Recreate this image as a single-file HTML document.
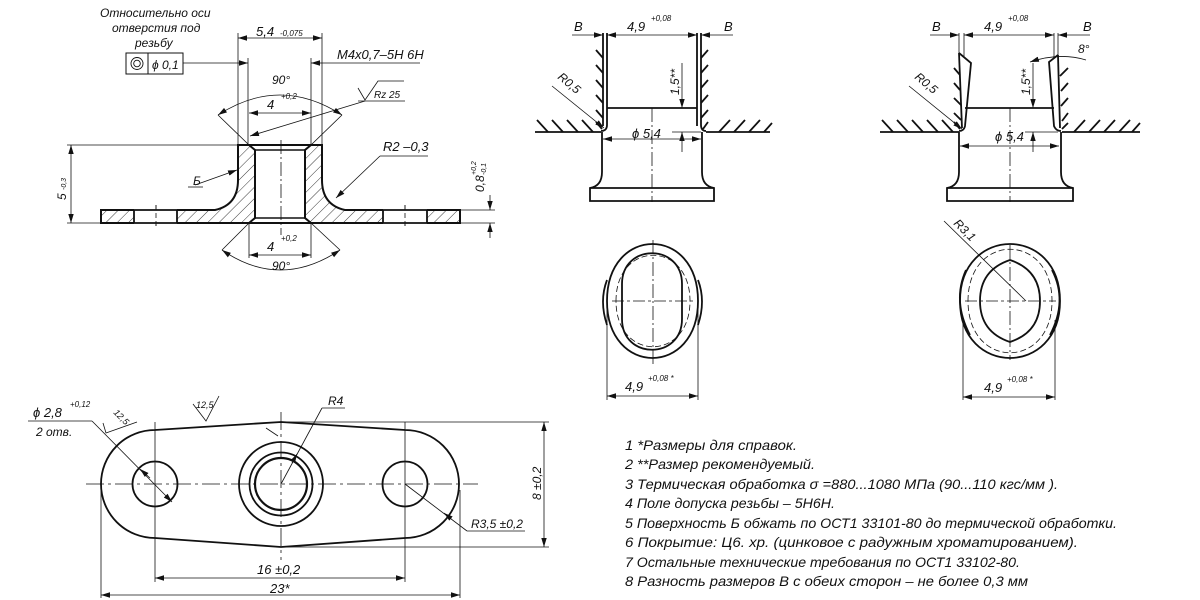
<!DOCTYPE html>
<html><head><meta charset="utf-8"><style>
html,body{margin:0;padding:0;background:#fff;}
svg{display:block;}
text{font-family:"Liberation Sans",sans-serif;font-style:italic;fill:#111;}
</style></head><body>
<svg width="1200" height="600" viewBox="0 0 1200 600" xmlns="http://www.w3.org/2000/svg">
<defs>
<pattern id="h" width="8" height="8" patternUnits="userSpaceOnUse" patternTransform="rotate(45)">
<line x1="0" y1="0" x2="0" y2="8" stroke="#222" stroke-width="0.9"/></pattern>
<marker id="a" viewBox="0 0 10 10" refX="10" refY="5" markerWidth="9" markerHeight="9" orient="auto-start-reverse" markerUnits="userSpaceOnUse"><path d="M0,2 L10,5 L0,8 z" fill="#111"/></marker>
</defs>
<g stroke="#111" fill="none">
<g stroke-width="0.8">
<line x1="238" y1="33" x2="238" y2="145"/><line x1="322" y1="33" x2="322" y2="145"/>
<line x1="238" y1="38" x2="322" y2="38" marker-start="url(#a)" marker-end="url(#a)"/>
<line x1="248" y1="58" x2="248" y2="145"/><line x1="311" y1="58" x2="311" y2="145"/>
<line x1="183" y1="63" x2="248" y2="63" marker-end="url(#a)"/>
<line x1="322" y1="63" x2="420" y2="63"/><line x1="311" y1="63" x2="322" y2="63" marker-start="url(#a)"/>
<line x1="249" y1="113" x2="311" y2="113" marker-start="url(#a)" marker-end="url(#a)"/>
<path d="M218,115 Q280,75 342,115" marker-start="url(#a)" marker-end="url(#a)"/>
<line x1="218" y1="115" x2="249" y2="145"/><line x1="342" y1="115" x2="311" y2="145"/>
<path d="M358,88 L365,100 L378,81 L404,81"/><line x1="358" y1="101" x2="405" y2="101"/>
<line x1="365" y1="101" x2="250" y2="136" marker-end="url(#a)"/>
<line x1="67" y1="145" x2="238" y2="145"/><line x1="67" y1="223" x2="101" y2="223"/>
<line x1="71" y1="145" x2="71" y2="223" marker-start="url(#a)" marker-end="url(#a)"/>
<path d="M195,185 L237,170" marker-end="url(#a)"/><line x1="188" y1="187" x2="203" y2="187"/>
<line x1="380" y1="156" x2="428" y2="156"/><line x1="380" y1="156" x2="336" y2="198" marker-end="url(#a)"/>
<line x1="460" y1="210" x2="495" y2="210"/><line x1="460" y1="223" x2="495" y2="223"/>
<line x1="490" y1="195" x2="490" y2="210" marker-end="url(#a)"/><line x1="490" y1="238" x2="490" y2="223" marker-end="url(#a)"/>
<line x1="249" y1="223" x2="249" y2="258"/><line x1="311" y1="223" x2="311" y2="258"/>
<line x1="249" y1="255" x2="311" y2="255" marker-start="url(#a)" marker-end="url(#a)"/>
<line x1="249" y1="223" x2="222" y2="250"/><line x1="311" y1="223" x2="340" y2="250"/>
<path d="M222,250 Q280,290 340,250" marker-start="url(#a)" marker-end="url(#a)"/>
<line x1="281" y1="140" x2="281" y2="235" stroke-dasharray="14,3,2,3"/>
<line x1="156" y1="205" x2="156" y2="228" stroke-dasharray="5,3"/><line x1="405" y1="205" x2="405" y2="228" stroke-dasharray="5,3"/>
</g>
<rect x="126" y="53" width="57" height="21" stroke-width="1"/><line x1="148" y1="53" x2="148" y2="74"/>
<circle cx="137" cy="63.5" r="6" stroke-width="0.9"/><circle cx="137" cy="63.5" r="3.3" stroke-width="0.9"/>
<path fill="url(#h)" stroke-width="2" d="M101,210 L215,210 Q238,205 238,180 L238,145 L249,145 L255,150 L255,218 L249,223 L101,223 Z"/>
<path fill="url(#h)" stroke-width="2" d="M460,210 L345,210 Q322,205 322,180 L322,145 L311,145 L305,150 L305,218 L311,223 L460,223 Z"/>
<rect x="134" y="209" width="43" height="15" fill="#fff" stroke="none"/>
<rect x="383" y="209" width="44" height="15" fill="#fff" stroke="none"/>
<g stroke-width="1.8"><line x1="134" y1="210" x2="134" y2="223"/><line x1="177" y1="210" x2="177" y2="223"/>
<line x1="383" y1="210" x2="383" y2="223"/><line x1="427" y1="210" x2="427" y2="223"/>
<line x1="134" y1="210" x2="177" y2="210"/><line x1="134" y1="223" x2="177" y2="223"/>
<line x1="383" y1="210" x2="427" y2="210"/><line x1="383" y1="223" x2="427" y2="223"/></g>
<line x1="156" y1="205" x2="156" y2="228" stroke-width="0.8" stroke-dasharray="5,3"/><line x1="405" y1="205" x2="405" y2="228" stroke-width="0.8" stroke-dasharray="5,3"/>
<line x1="249" y1="145" x2="311" y2="145" stroke-width="2"/><line x1="249" y1="223" x2="311" y2="223" stroke-width="2"/>
<line x1="255" y1="150" x2="305" y2="150" stroke-width="1.4"/><line x1="255" y1="218" x2="305" y2="218" stroke-width="1.4"/>

<g stroke-width="0.8">
<line x1="572" y1="35" x2="603" y2="35" marker-end="url(#a)"/><line x1="607" y1="35" x2="697" y2="35" marker-start="url(#a)" marker-end="url(#a)"/>
<line x1="701" y1="35" x2="733" y2="35" marker-start="url(#a)"/>
<line x1="682" y1="63" x2="682" y2="108" marker-end="url(#a)"/><line x1="682" y1="152" x2="682" y2="132" marker-end="url(#a)"/>
<line x1="672" y1="132" x2="701" y2="132"/>
<line x1="603" y1="139" x2="701" y2="139" marker-start="url(#a)" marker-end="url(#a)"/>
<line x1="552" y1="86" x2="604" y2="128" marker-end="url(#a)"/>
<line x1="652" y1="108" x2="652" y2="202" stroke-dasharray="14,3,2,3"/>
</g>
<g stroke-width="1.8">
<line x1="603" y1="33" x2="603" y2="126"/><path d="M607,33 L607,125 Q607,131 601,131"/>
<line x1="697" y1="33" x2="697" y2="126"/><path d="M701,33 L701,125 Q701,131 706,131"/>
<line x1="535" y1="132" x2="601" y2="132"/><line x1="706" y1="132" x2="770" y2="132"/>
<line x1="607" y1="108" x2="697" y2="108"/>
<path d="M602,132 L602,172 Q602,186 590,188 L590,201 L714,201 L714,188 Q702,186 702,172 L702,132"/>
<line x1="590" y1="188" x2="714" y2="188"/>
<path d="M596,50 L603,58 M596,65 L603,73 M596,80 L603,88 M596,95 L603,103 M596,110 L603,118 M596,122 L602,129"/>
<path d="M708,50 L701,58 M708,65 L701,73 M708,80 L701,88 M708,95 L701,103 M708,110 L701,118 M708,122 L703,129"/>
<path d="M537,120 L548,132 M552,120 L563,132 M567,120 L578,132 M582,120 L593,132"/>
<path d="M719,132 L730,120 M734,132 L745,120 M749,132 L760,120 M764,132 L772,123"/>
</g>

<g stroke-width="0.8">
<line x1="930" y1="35" x2="959" y2="35" marker-end="url(#a)"/><line x1="964" y1="35" x2="1054" y2="35" marker-start="url(#a)" marker-end="url(#a)"/>
<line x1="1058" y1="35" x2="1090" y2="35" marker-start="url(#a)"/>
<line x1="959" y1="33" x2="959" y2="58"/><line x1="964" y1="33" x2="964" y2="58"/>
<line x1="1054" y1="33" x2="1054" y2="58"/><line x1="1058" y1="33" x2="1058" y2="58"/>
<line x1="1033" y1="63" x2="1033" y2="108" marker-end="url(#a)"/><line x1="1033" y1="152" x2="1033" y2="132" marker-end="url(#a)"/>
<line x1="1025" y1="132" x2="1058" y2="132"/>
<line x1="960" y1="146" x2="1059" y2="146" marker-start="url(#a)" marker-end="url(#a)"/>
<line x1="909" y1="86" x2="962" y2="129" marker-end="url(#a)"/>
<path d="M1030,62 Q1060,52 1086,60" marker-start="url(#a)"/>
<line x1="1010" y1="108" x2="1010" y2="202" stroke-dasharray="14,3,2,3"/>
</g>
<g stroke-width="1.8">
<path d="M959,53 L971,63 L965,126 Q964,131 959,131"/><line x1="959" y1="53" x2="962" y2="128"/>
<path d="M1058,55 L1049,62 L1054,126 Q1056,131 1061,131"/><line x1="1058" y1="55" x2="1060" y2="128"/>
<line x1="880" y1="132" x2="959" y2="132"/><line x1="1062" y1="132" x2="1140" y2="132"/>
<line x1="965" y1="108" x2="1054" y2="108"/>
<path d="M959,132 L959,172 Q959,186 947,188 L947,201 L1073,201 L1073,188 Q1061,186 1061,172 L1061,132"/>
<line x1="947" y1="188" x2="1073" y2="188"/>
<path d="M954,68 L960,75 M954,83 L960,90 M954,98 L961,105 M954,113 L961,120 M954,122 L960,129"/>
<path d="M1068,68 L1060,76 M1068,83 L1061,91 M1068,98 L1061,106 M1068,113 L1062,121 M1068,123 L1062,129"/>
<path d="M882,120 L893,132 M897,120 L908,132 M912,120 L923,132 M927,120 L938,132 M942,120 L953,132"/>
<path d="M1074,132 L1085,120 M1089,132 L1100,120 M1104,132 L1115,120 M1119,132 L1130,120 M1132,132 L1140,123"/>
</g>

<g stroke-width="0.8">
<line x1="612" y1="301" x2="694" y2="301" stroke-dasharray="12,3,3,3"/>
<line x1="653" y1="240" x2="653" y2="364" stroke-dasharray="14,3,2,3"/>
<path d="M616,301 C616,240 690,240 690,301 C690,362 616,362 616,301 Z" stroke-dasharray="6,3"/>
<line x1="607" y1="300" x2="607" y2="400"/><line x1="698" y1="300" x2="698" y2="400"/>
<line x1="607" y1="396" x2="698" y2="396" marker-start="url(#a)" marker-end="url(#a)"/>
</g>
<g stroke-width="1.8">
<path d="M607,301 C607,225 698,225 698,301 C698,377 607,377 607,301 Z"/>
<path d="M622,284 C622,243 682,243 682,284 L682,319 C682,360 622,360 622,319 Z"/>
<path d="M607,280 Q599,301 607,325"/><path d="M698,280 Q706,301 698,325"/>
</g>
<g stroke-width="0.8">
<line x1="965" y1="301" x2="1056" y2="301" stroke-dasharray="12,3,3,3"/>
<line x1="1010" y1="245" x2="1010" y2="360" stroke-dasharray="14,3,2,3"/>
<path d="M968,301 C968,232 1052,232 1052,301 C1052,370 968,370 968,301 Z" stroke-dasharray="6,3"/>
<line x1="944" y1="221" x2="1026" y2="301"/>
<line x1="963" y1="320" x2="963" y2="400"/><line x1="1055" y1="320" x2="1055" y2="400"/>
<line x1="963" y1="397" x2="1055" y2="397" marker-start="url(#a)" marker-end="url(#a)"/>
</g>
<g stroke-width="1.8">
<path d="M960,301 C960,225 1060,225 1060,301 C1060,377 960,377 960,301 Z"/>
<path d="M1010,260 Q1040,270 1040,301 Q1040,332 1010,342 Q980,332 980,301 Q980,270 1010,260 Z"/>
<path d="M966,270 Q952,301 970,335"/><path d="M1052,270 Q1068,301 1050,335"/>
</g>

<g stroke-width="0.8">
<line x1="86" y1="484" x2="478" y2="484" stroke-dasharray="18,4,3,4"/>
<line x1="155" y1="422" x2="155" y2="582"/><line x1="405" y1="422" x2="405" y2="582"/>
<line x1="281" y1="412" x2="281" y2="560" stroke-dasharray="18,4,3,4"/>
<line x1="101" y1="490" x2="101" y2="598"/><line x1="460" y1="490" x2="460" y2="598"/>
<line x1="155" y1="578" x2="405" y2="578" marker-start="url(#a)" marker-end="url(#a)"/>
<line x1="101" y1="595" x2="460" y2="595" marker-start="url(#a)" marker-end="url(#a)"/>
<line x1="281" y1="422" x2="549" y2="422"/><line x1="281" y1="547" x2="549" y2="547"/>
<line x1="544" y1="422" x2="544" y2="547" marker-start="url(#a)" marker-end="url(#a)"/>
<line x1="467" y1="531" x2="525" y2="531"/><line x1="467" y1="531" x2="405" y2="484"/>
<line x1="449" y1="517" x2="444" y2="513" marker-end="url(#a)"/>
<line x1="322" y1="408" x2="345" y2="408"/><line x1="322" y1="408" x2="281" y2="484"/>
<line x1="292" y1="463" x2="297" y2="454" marker-end="url(#a)"/>
<line x1="28" y1="421" x2="92" y2="421"/><line x1="92" y1="421" x2="172" y2="502" marker-end="url(#a)"/>
<line x1="150" y1="478" x2="140" y2="469" marker-end="url(#a)"/>
<path d="M103,423 L106,433 L137,422"/>
<path d="M193,404 L206,421 L219,396"/>
<line x1="266" y1="428" x2="278" y2="436"/>
</g>
<g stroke-width="1.8">
<path d="M155,430 L281,422 L405,430 A54,54 0 0 1 405,538 L281,547 L155,538 A54,54 0 0 1 155,430 Z"/>
<circle cx="155" cy="484" r="22.5"/><circle cx="405" cy="484" r="22.5"/>
<circle cx="281" cy="484" r="42"/><circle cx="281" cy="484" r="31.5"/><circle cx="281" cy="484" r="26" stroke-width="2.2"/>
</g>
</g>

<g font-size="12">
<text x="100" y="17" font-size="12">Относительно оси</text>
<text x="112" y="32" font-size="12">отверстия под</text>
<text x="135" y="47" font-size="12">резьбу</text>
<text x="152" y="69" font-size="12">ϕ 0,1</text>
<text x="256" y="36" font-size="13">5,4</text><text x="280" y="36" font-size="8">-0,075</text>
<text x="337" y="59" font-size="13">M4x0,7–5H 6H</text>
<text x="272" y="84" font-size="12">90°</text>
<text x="267" y="109" font-size="13">4</text><text x="281" y="99" font-size="8">+0,2</text>
<text x="374" y="98" font-size="10">Rz 25</text>
<text x="383" y="151" font-size="13">R2 –0,3</text>
<text x="193" y="185" font-size="12">Б</text>
<text transform="translate(66,200) rotate(-90)" font-size="12">5</text>
<text transform="translate(66,190) rotate(-90)" font-size="7">-0,3</text>
<text transform="translate(484,192) rotate(-90)" font-size="12">0,8</text>
<text transform="translate(476,175) rotate(-90)" font-size="7">+0,2</text>
<text transform="translate(486,175) rotate(-90)" font-size="7">-0,1</text>
<text x="267" y="251" font-size="13">4</text><text x="281" y="241" font-size="8">+0,2</text>
<text x="272" y="270" font-size="12">90°</text>

<text x="574" y="31" font-size="13">B</text>
<text x="627" y="31" font-size="13">4,9</text><text x="651" y="21" font-size="8">+0,08</text>
<text x="724" y="31" font-size="13">B</text>
<text x="632" y="138" font-size="13">ϕ 5,4</text>
<text transform="translate(679,95) rotate(-90)" font-size="12">1,5**</text>
<text transform="translate(557,78) rotate(40)" font-size="12">R0,5</text>

<text x="932" y="31" font-size="13">B</text>
<text x="984" y="31" font-size="13">4,9</text><text x="1008" y="21" font-size="8">+0,08</text>
<text x="1083" y="31" font-size="13">B</text>
<text x="1078" y="53" font-size="12">8°</text>
<text x="995" y="141" font-size="13">ϕ 5,4</text>
<text transform="translate(1030,95) rotate(-90)" font-size="12">1,5**</text>
<text transform="translate(914,78) rotate(40)" font-size="12">R0,5</text>

<text x="625" y="391" font-size="13">4,9</text><text x="648" y="381" font-size="8">+0,08 *</text>
<text x="984" y="392" font-size="13">4,9</text><text x="1007" y="382" font-size="8">+0,08 *</text>
<text transform="translate(953,224) rotate(45)" font-size="12">R3,1</text>

<text x="33" y="417" font-size="13">ϕ 2,8</text><text x="70" y="407" font-size="8">+0,12</text>
<text x="36" y="436" font-size="12">2 отв.</text>
<text transform="translate(113,413) rotate(45)" font-size="9">12,5</text>
<text x="196" y="408" font-size="9">12,5</text>
<text x="328" y="405" font-size="12">R4</text>
<text x="471" y="528" font-size="12">R3,5 ±0,2</text>
<text transform="translate(541,500) rotate(-90)" font-size="12">8 ±0,2</text>
<text x="257" y="574" font-size="13">16 ±0,2</text>
<text x="270" y="593" font-size="13">23*</text>
</g>
<g font-size="14">
<text x="625" y="450" textLength="172" lengthAdjust="spacingAndGlyphs">1 *Размеры для справок.</text>
<text x="625" y="469" textLength="190" lengthAdjust="spacingAndGlyphs">2 **Размер рекомендуемый.</text>
<text x="625" y="489" textLength="433" lengthAdjust="spacingAndGlyphs">3 Термическая обработка σ =880...1080 МПа (90...110 кгс/мм ).</text>
<text x="625" y="508" textLength="210" lengthAdjust="spacingAndGlyphs">4 Поле допуска резьбы – 5H6H.</text>
<text x="625" y="528" textLength="492" lengthAdjust="spacingAndGlyphs">5 Поверхность Б обжать по ОСТ1 33101-80 до термической обработки.</text>
<text x="625" y="547" textLength="453" lengthAdjust="spacingAndGlyphs">6 Покрытие: Ц6. хр. (цинковое с радужным хроматированием).</text>
<text x="625" y="567" textLength="395" lengthAdjust="spacingAndGlyphs">7 Остальные технические требования по ОСТ1 33102-80.</text>
<text x="625" y="586" textLength="403" lengthAdjust="spacingAndGlyphs">8 Разность размеров В с обеих сторон – не более 0,3 мм</text>
</g>
</svg>
</body></html>
